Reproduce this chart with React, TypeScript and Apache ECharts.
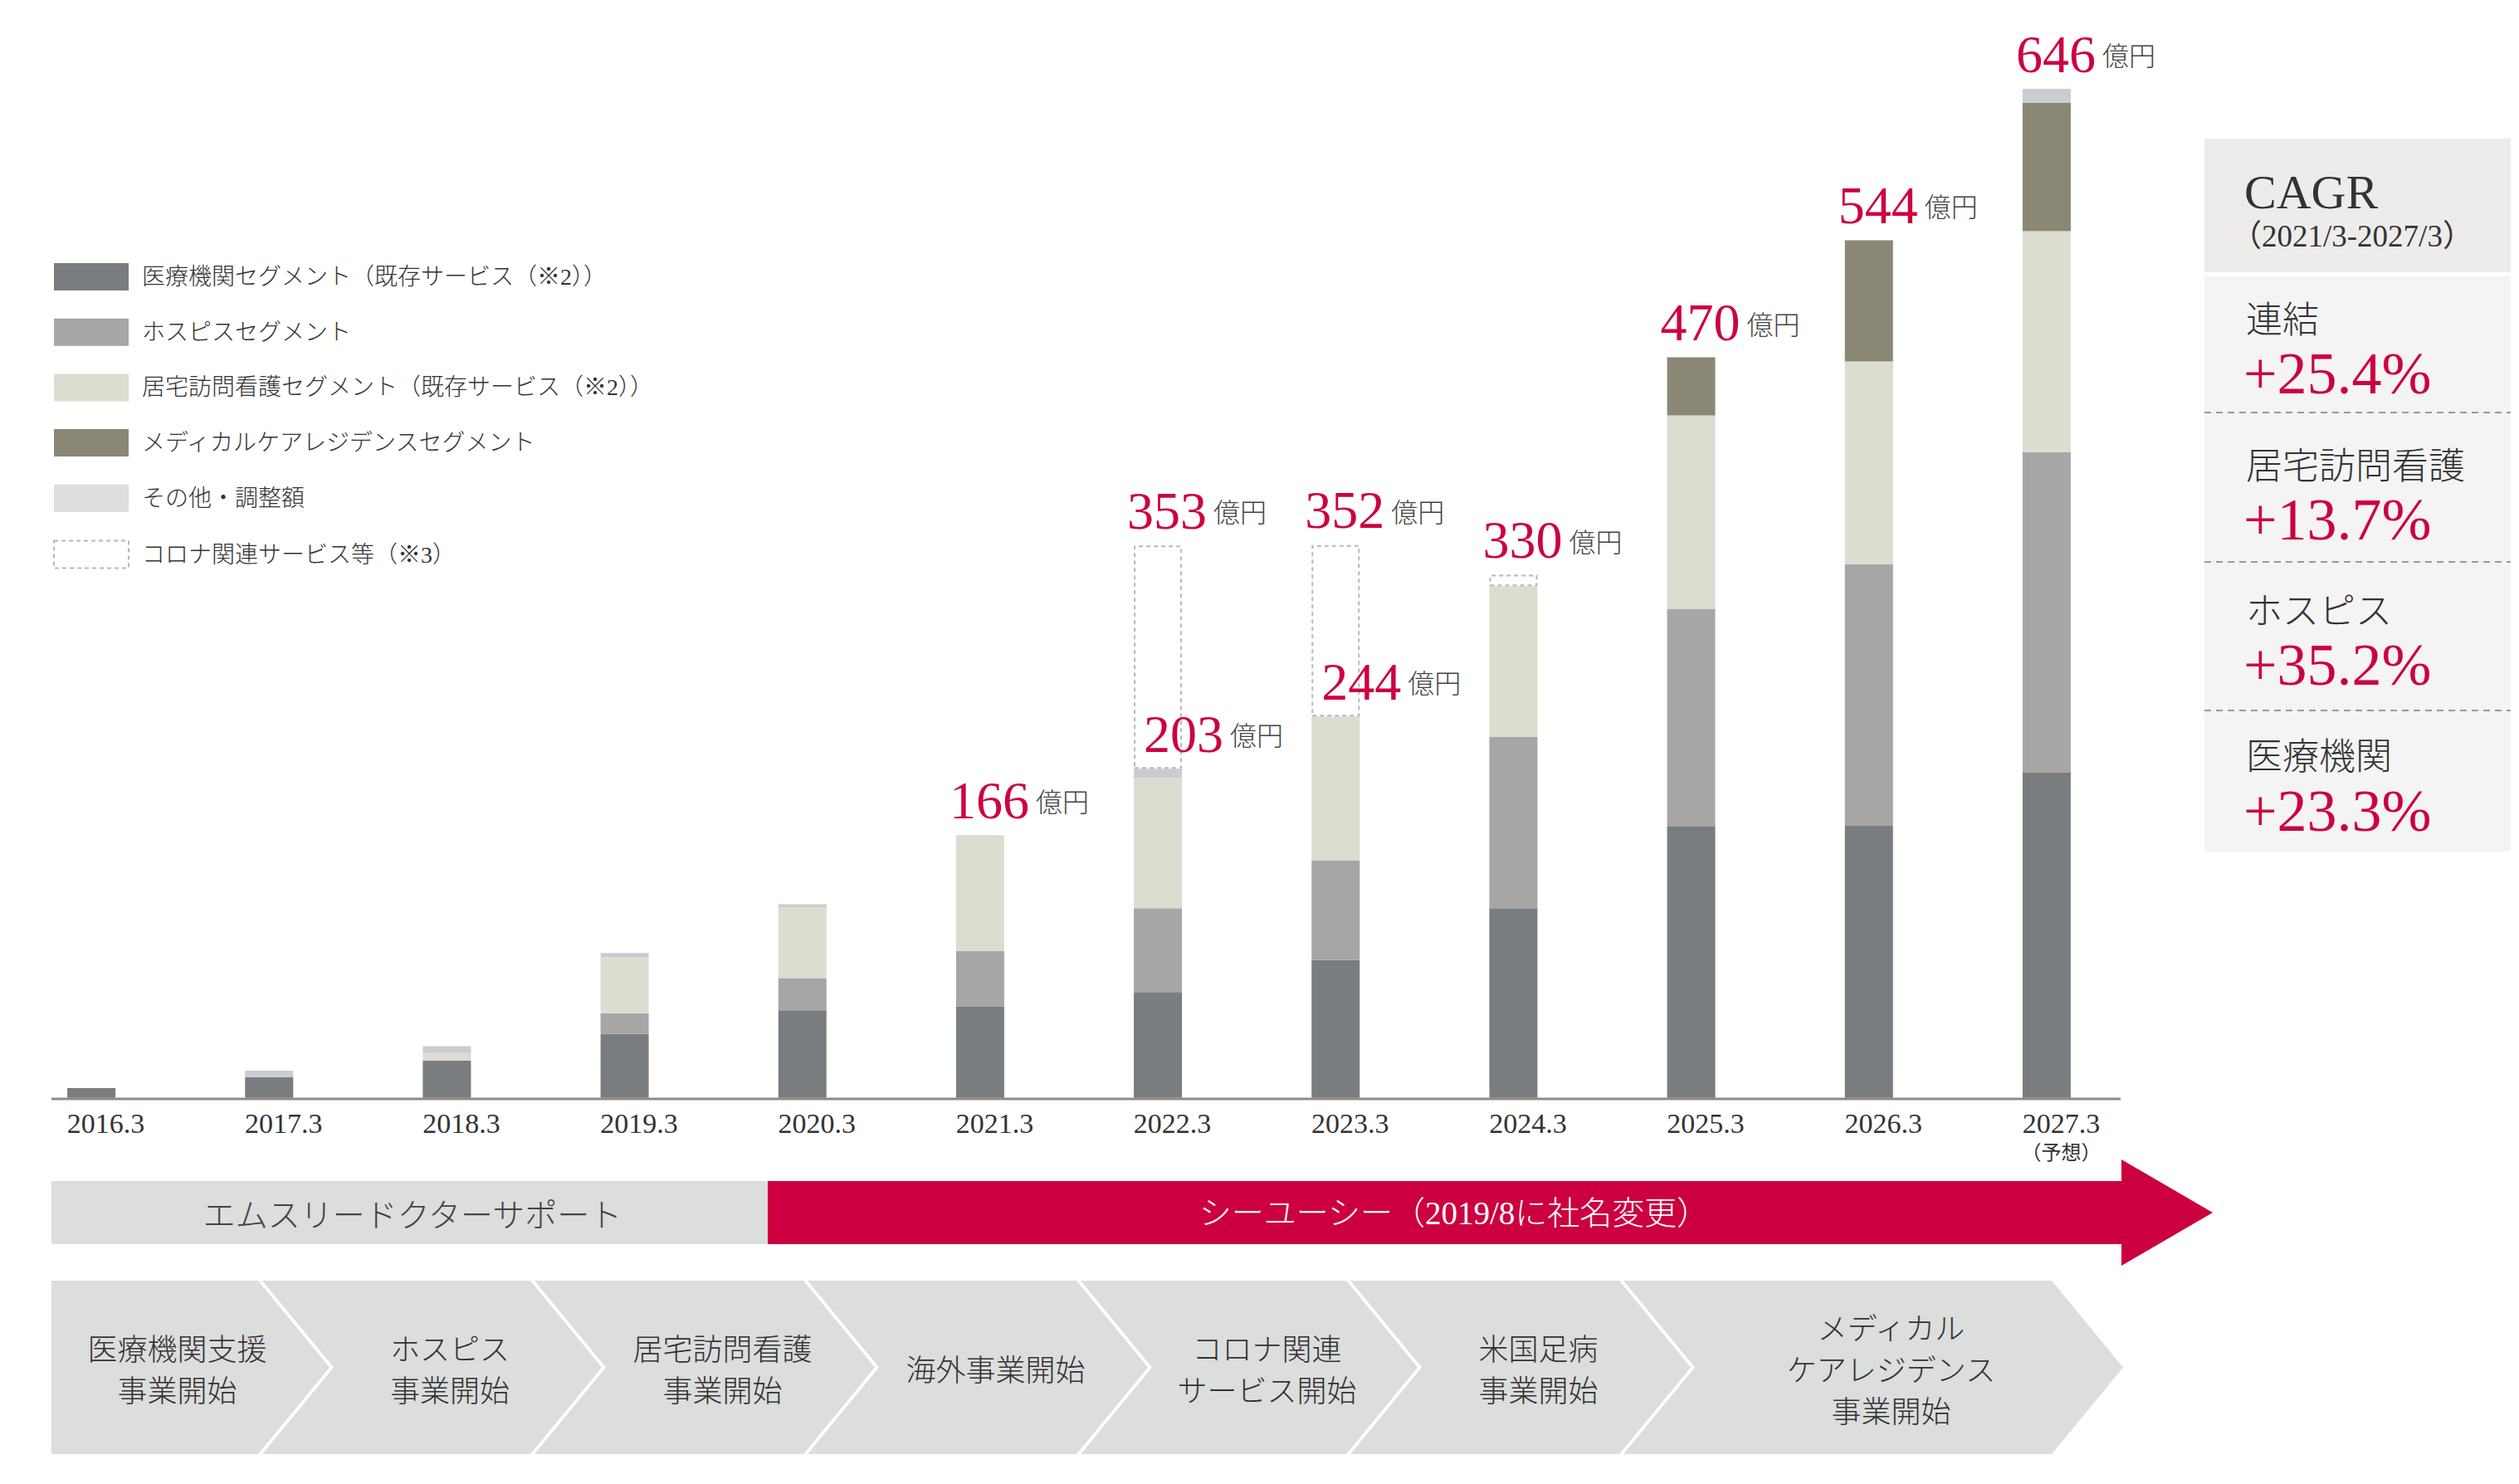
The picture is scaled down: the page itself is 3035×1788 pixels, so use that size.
import React, { useEffect, useRef } from 'react';
import * as echarts from 'echarts';

// ---------------- data ----------------
const categories = ['2016.3', '2017.3', '2018.3', '2019.3', '2020.3', '2021.3', '2022.3', '2023.3', '2024.3', '2025.3', '2026.3', '2027.3'];
const forecastNote = '（予想）';

const medical = [6.2, 13.3, 23.9, 40.9, 56.0, 58.3, 67.8, 88.2, 121.5, 174.1, 174.2, 208.2];
const hospice = [0, 0, 0, 13.3, 20.7, 35.8, 53.7, 64.0, 109.6, 139.1, 167.6, 205.3];
const homeNursing = [0, 0, 4.8, 36.0, 45.4, 74.1, 83.3, 92.0, 96.6, 123.9, 129.9, 141.6];
const careResidence = [0, 0, 0, 0, 0, 0, 0, 0, 0, 37.2, 77.6, 82.2];
const otherAdj = [0, 4.1, 4.4, 2.5, 1.9, 0, 6.0, 0, 0, 0, 0, 9.0];
const corona = [null, null, null, null, null, null, 143.0, 109.8, 7.3, null, null, null];

const totalLabels = ['', '', '', '', '', '166', '353', '352', '330', '470', '544', '646'];
const subtotalLabels = ['', '', '', '', '', '', '203', '244', '', '', '', ''];
const unitText = '億円';

const seriesNames = [
  '医療機関セグメント（既存サービス（※2））',
  'ホスピスセグメント',
  '居宅訪問看護セグメント（既存サービス（※2））',
  'メディカルケアレジデンスセグメント',
  'その他・調整額',
  'コロナ関連サービス等（※3）',
];

const companyNames = ['エムスリードクターサポート', 'シーユーシー（2019/8に社名変更）'];
const milestones = [
  '医療機関支援\n事業開始',
  'ホスピス\n事業開始',
  '居宅訪問看護\n事業開始',
  '海外事業開始',
  'コロナ関連\nサービス開始',
  '米国足病\n事業開始',
  'メディカル\nケアレジデンス\n事業開始',
];
const cagrTitle = 'CAGR';
const cagrPeriod = '（2021/3-2027/3）';
const cagrLabels = ['連結', '居宅訪問看護', 'ホスピス', '医療機関'];
const cagrValues = ['+25.4%', '+13.7%', '+35.2%', '+23.3%'];

// ---------------- styles ----------------
const SERIF = "'Liberation Serif', 'Noto Sans CJK JP', serif";
const JP = "'Noto Sans CJK JP', sans-serif";
const RED = '#cc0040';
const TEXT = '#333333';
const colors = ['#7a7d80', '#a6a6a6', '#dcdcd1', '#8a8875', '#c9cdd1'];
const legendColors = ['#7a7d80', '#a6a6a6', '#dcdcd1', '#8a8875', '#dcdddd'];

export default function App() {
  const ref = useRef<HTMLDivElement>(null);

  useEffect(() => {
    document.body.style.margin = '0';
    const el = ref.current;
    if (!el) return;
    const chart = echarts.init(el, undefined, { renderer: 'svg' });

    const segs = [medical, hospice, homeNursing, careResidence, otherAdj];
    const stackTop = categories.map((_, i) => segs.reduce((s, a) => s + (a[i] || 0), 0));
    const fullTop = categories.map((_, i) => stackTop[i] + (corona[i] || 0));

    const labelItems: { i: number; y: number; text: string; dx: number }[] = [];
    categories.forEach((_, i) => {
      if (totalLabels[i]) labelItems.push({ i, y: fullTop[i], text: totalLabels[i], dx: -37 });
      if (subtotalLabels[i]) labelItems.push({ i, y: stackTop[i], text: subtotalLabels[i], dx: -17 });
    });

    const barSeries: any[] = segs.map((arr, k) => ({
      name: seriesNames[k],
      type: 'bar',
      stack: 'total',
      barWidth: 58,
      data: arr,
      itemStyle: { color: colors[k] },
      silent: true,
    }));
    barSeries.push({
      name: seriesNames[5],
      type: 'bar',
      stack: 'total',
      barWidth: 58,
      data: corona,
      itemStyle: { color: 'rgba(255,255,255,0)', borderColor: '#b8b8b8', borderWidth: 2, borderType: [5, 4] },
      silent: true,
    });

    const labelSeries = {
      type: 'custom',
      z: 10,
      silent: true,
      data: labelItems.map((d) => [d.i, d.y]),
      renderItem: (params: any, api: any) => {
        const item = labelItems[params.dataIndex];
        const pt = api.coord([api.value(0), api.value(1)]);
        return {
          type: 'text',
          x: pt[0] + item.dx,
          y: pt[1] - 10,
          style: {
            text: `{n|${item.text}}{u|${unitText}}`,
            align: 'left',
            verticalAlign: 'bottom',
            rich: {
              n: { fontSize: 64, lineHeight: 64, fontFamily: 'Liberation Serif', fill: RED, color: RED },
              u: { fontSize: 32, fontFamily: JP, fontWeight: 300, fill: '#444', color: '#444', padding: [0, 0, 0, 8] },
            },
          },
        };
      },
    };

    // ---------- decorations ----------
    const g: any[] = [];
    g.push({ type: 'line', z: 100, shape: { x1: 62, y1: 1324, x2: 2555, y2: 1324 }, style: { stroke: '#8c8c8c', lineWidth: 3 } });

    g.push({ type: 'rect', shape: { x: 62, y: 1423, width: 863, height: 76 }, style: { fill: '#dcdddd' } });
    g.push({
      type: 'polygon',
      shape: { points: [[925, 1423], [2556, 1423], [2556, 1397], [2666, 1461], [2556, 1525], [2556, 1499], [925, 1499]] },
      style: { fill: RED },
    });
    g.push({ type: 'text', x: 497, y: 1461, style: { text: companyNames[0], fontSize: 39, fontFamily: JP, fontWeight: 300, fill: '#444', align: 'center', verticalAlign: 'middle' } });
    g.push({ type: 'text', x: 1752, y: 1461, style: { text: companyNames[1], fontSize: 39, fontFamily: SERIF, fontWeight: 300, fill: '#ffffff', align: 'center', verticalAlign: 'middle' } });

    const b = [62, 311, 639, 968, 1297, 1622, 1951, 2472];
    const d = 86, gap = 5, top = 1543, bot = 1752, mid = (1543 + 1752) / 2;
    milestones.forEach((m, i) => {
      const l = b[i], r = b[i + 1];
      const pts = i === 0
        ? [[l, top], [r, top], [r + d, mid], [r, bot], [l, bot]]
        : [[l + gap, top], [r, top], [r + d, mid], [r, bot], [l + gap, bot], [l + gap + d, mid]];
      g.push({ type: 'polygon', shape: { points: pts }, style: { fill: '#dcdddd' } });
      const cx = (l + r + d) / 2 + (i === 0 ? -16 : 24);
      g.push({ type: 'text', x: cx, y: mid, style: { text: m, fontSize: 36, lineHeight: 50, fontFamily: JP, fontWeight: 300, fill: TEXT, align: 'center', verticalAlign: 'middle' } });
    });

    g.push({ type: 'rect', shape: { x: 2656, y: 167, width: 369, height: 161 }, style: { fill: '#edecea' } });
    g.push({ type: 'rect', shape: { x: 2656, y: 333, width: 369, height: 693 }, style: { fill: '#f5f4f4' } });
    [497, 677, 856].forEach((y) => {
      g.push({ type: 'line', shape: { x1: 2656, y1: y, x2: 3025, y2: y }, style: { stroke: '#9a9a9a', lineWidth: 2, lineDash: [8, 6] } });
    });
    g.push({ type: 'text', x: 2704, y: 231, style: { text: cagrTitle, fontSize: 58, fontFamily: 'Liberation Serif', fill: TEXT, align: 'left', verticalAlign: 'middle' } });
    g.push({ type: 'text', x: 2688, y: 284, style: { text: cagrPeriod, fontSize: 37, fontFamily: SERIF, fill: TEXT, align: 'left', verticalAlign: 'middle' } });
    const labelY = [382, 558, 733, 908];
    const valueY = [450, 626, 801, 977];
    cagrLabels.forEach((t, i) => {
      g.push({ type: 'text', x: 2706, y: labelY[i], style: { text: t, fontSize: 44, fontFamily: JP, fontWeight: 300, fill: TEXT, align: 'left', verticalAlign: 'middle' } });
      g.push({ type: 'text', x: 2703, y: valueY[i], style: { text: cagrValues[i], fontSize: 72, fontFamily: 'Liberation Serif', fill: RED, align: 'left', verticalAlign: 'middle' } });
    });

    chart.setOption({
      animation: false,
      backgroundColor: '#ffffff',
      grid: { left: 3, width: 2570, top: 6, bottom: 465.3, containLabel: false },
      legend: {
        orient: 'vertical',
        left: 59,
        top: 312,
        padding: 5,
        itemWidth: 90,
        itemHeight: 33,
        itemGap: 33.7,
        selectedMode: false,
        textStyle: { fontSize: 28, fontFamily: SERIF, fontWeight: 300, color: TEXT, padding: [0, 0, 0, 11] },
        data: seriesNames.map((n, k) => ({
          name: n,
          icon: 'rect',
          itemStyle: k < 5
            ? { color: legendColors[k], borderWidth: 0 }
            : { color: '#ffffff', borderColor: '#b8b8b8', borderWidth: 2, borderType: [5, 4] },
        })),
      },
      xAxis: {
        type: 'category',
        data: categories,
        axisLine: { show: false },
        axisTick: { show: false },
        axisLabel: {
          interval: 0,
          margin: 13,
          fontSize: 34,
          lineHeight: 36,
          fontFamily: 'Liberation Serif',
          color: TEXT,
          padding: [0, 0, 0, 35],
          formatter: (v: string, idx: number) => (idx === categories.length - 1 ? `${v}\n{s|${forecastNote}}` : v),
          rich: { s: { fontSize: 24, lineHeight: 34, fontFamily: SERIF, color: TEXT } },
        },
      },
      yAxis: { type: 'value', min: 0, max: 700, show: false, splitLine: { show: false } },
      series: [...barSeries, labelSeries],
      graphic: { elements: g },
    });

    return () => chart.dispose();
  }, []);

  return <div ref={ref} style={{ width: 3035, height: 1788 }} />;
}
